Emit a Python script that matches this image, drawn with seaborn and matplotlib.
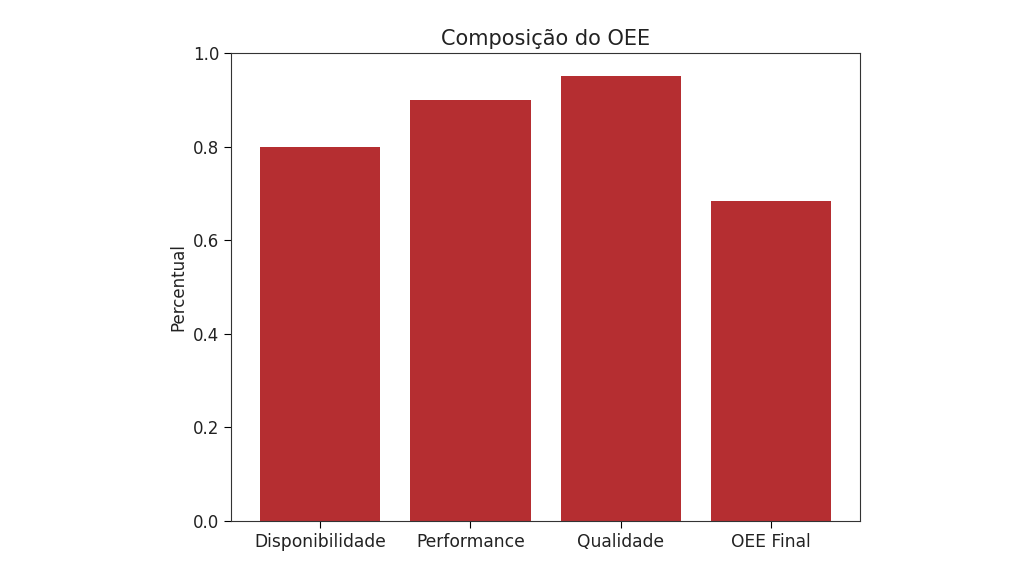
import matplotlib
matplotlib.use("Agg")
import matplotlib.pyplot as plt
import seaborn as sns
import pandas as pd

categorias = ["Disponibilidade", "Performance", "Qualidade", "OEE Final"]
valores = [0.80, 0.90, 0.95, 0.684]

plt.rcParams['font.family'] = ['DejaVu Sans']

df = pd.DataFrame({"Categoria": categorias, "Percentual": valores})

fig = plt.figure(figsize=(10.24, 5.76), dpi=100)
ax = fig.add_axes([0.2256, 0.0955, 0.6143, 0.8125])
sns.barplot(data=df, x="Categoria", y="Percentual", color="#b52e31",
            saturation=1, width=0.8, ax=ax, edgecolor="none")
ax.set_xlim(-0.593, 3.593)
ax.set_ylim(0, 1.0)
ax.set_yticks([0.0, 0.2, 0.4, 0.6, 0.8, 1.0])
ax.set_xlabel("")
ax.set_ylabel("Percentual", fontsize=12, color="#222222")
ax.set_title("Composição do OEE", fontsize=15, color="#222222")
ax.tick_params(axis="x", labelsize=12.3, labelcolor="#222222", length=5)
ax.tick_params(axis="y", labelsize=12, labelcolor="#222222", length=5)
for s in ax.spines.values():
    s.set_visible(True)
    s.set_color("#333333")
fig.savefig("out.png", dpi=100)
